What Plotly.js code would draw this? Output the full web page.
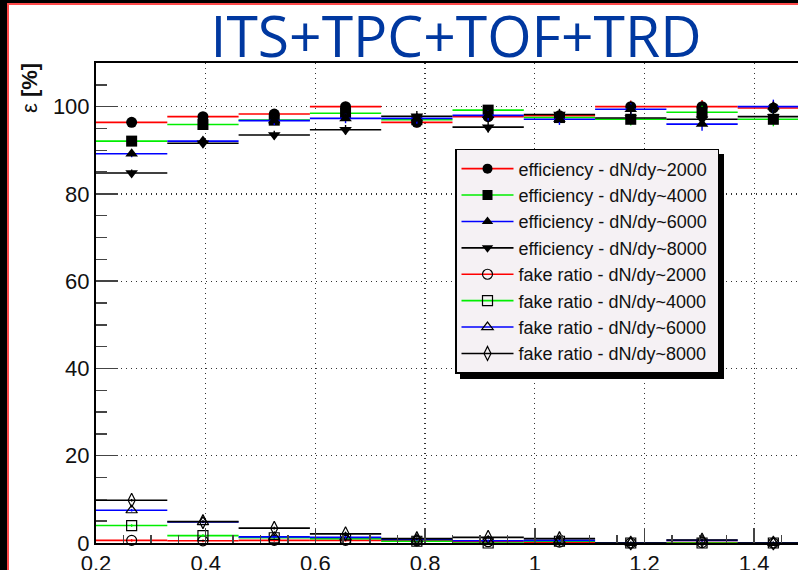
<!DOCTYPE html>
<html>
<head>
<meta charset="utf-8">
<script src="https://cdn.plot.ly/plotly-3.0.1.min.js"></script>
<style>
  html, body { margin: 0; padding: 0; background: #fff; }
  #wrap { position: relative; width: 798px; height: 570px; overflow: hidden; }
  #chart { width: 812px; height: 570px; }
  .legend .bg { filter: drop-shadow(5px 5px 0 #000); }
  .frm { position: absolute; }
</style>
</head>
<body>
<div id="wrap">
  <div id="chart"></div>
  <div class="frm" style="left:0;top:0;width:798px;height:3px;background:#000"></div>
  <div class="frm" style="left:7px;top:3px;width:791px;height:1.5px;background:#ff4a4a"></div>
  <div class="frm" style="left:0;top:0;width:7px;height:570px;background:#000"></div>
  <div class="frm" style="left:7px;top:3px;width:1.5px;height:567px;background:#ff4a4a"></div>
</div>
<script>
// ---- data ----
const binCenters = [0.265, 0.395, 0.525, 0.655, 0.785, 0.915, 1.045, 1.175, 1.305, 1.435];
const binHalfWidth = [0.065, 0.065, 0.065, 0.065, 0.065, 0.065, 0.065, 0.065, 0.065, 0.065];

const eff2000 = [96.4, 97.7, 98.3, 100.0, 96.4, 97.7, 97.9, 100.0, 100.0, 99.7];
const eff4000 = [92.1, 95.9, 96.9, 98.5, 97.0, 99.2, 97.5, 97.1, 98.7, 97.1];
const eff6000 = [89.2, 92.1, 96.8, 97.3, 97.3, 98.0, 97.1, 99.4, 96.0, 100.0];
const eff8000 = [84.8, 91.6, 93.5, 94.7, 97.8, 95.3, 98.2, 97.4, 97.1, 97.7];
const effErr  = [0.8, 0.9, 1.0, 1.1, 1.2, 1.2, 1.3, 1.4, 1.5, 1.6];

const fake2000 = [0.6, 0.5, 0.6, 0.6, 0.5, 0.3, 0.2, 0.0, 0.1, 0.0];
const fake4000 = [4.0, 1.7, 1.2, 1.0, 0.4, 0.0, 0.4, 0.0, 0.0, 0.0];
const fake6000 = [7.5, 4.8, 1.4, 1.3, 0.8, 0.5, 0.6, 0.0, 0.6, 0.0];
const fake8000 = [9.8, 4.9, 3.4, 2.1, 1.0, 1.3, 1.0, 0.0, 0.7, 0.0];
const fakeErr  = [0.3, 0.3, 0.3, 0.3, 0.3, 0.3, 0.3, 0.3, 0.3, 0.3];

const seriesNames = [
  'efficiency - dN/dy~2000', 'efficiency - dN/dy~4000',
  'efficiency - dN/dy~6000', 'efficiency - dN/dy~8000',
  'fake ratio - dN/dy~2000', 'fake ratio - dN/dy~4000',
  'fake ratio - dN/dy~6000', 'fake ratio - dN/dy~8000'
];
const titleText = 'ITS+TPC+TOF+TRD';
const yTitle = 'ε [%]';

// ---- styles ----
const colors = ['#ff0000', '#00ee00', '#0000ff', '#000000'];
const effSymbols = ['circle', 'square', 'triangle-up', 'triangle-down'];
const fakeSymbols = ['circle-open', 'square-open', 'triangle-up-open', 'diamond-tall-open'];
const FONT = 'Liberation Sans, Arial, sans-serif';

const effSeries = [eff2000, eff4000, eff6000, eff8000];
const fakeSeries = [fake2000, fake4000, fake6000, fake8000];

const traces = [];
function addSeries(yv, err, color, symbol, filled) {
  traces.push({
    type: 'scatter', mode: 'markers', x: binCenters, y: yv, showlegend: false,
    cliponaxis: false,
    marker: { color: '#000', symbol: symbol, size: filled ? 11 : 10,
              line: { color: '#000', width: filled ? 0 : 1.2 } },
    error_x: { type: 'data', array: binHalfWidth, color: color, thickness: 1.6, width: 0 },
    error_y: { type: 'data', array: err, color: color, thickness: 1.4, width: 0 }
  });
}
effSeries.forEach((s, i) => addSeries(s, effErr, colors[i], effSymbols[i], true));
fakeSeries.forEach((s, i) => addSeries(s, fakeErr, colors[i], fakeSymbols[i], false));

// legend entries
const allSymbols = effSymbols.concat(fakeSymbols);
seriesNames.forEach((name, i) => {
  const c = colors[i % 4];
  const filled = i < 4;
  traces.push({
    type: 'scatter', mode: 'lines+markers', x: [null], y: [null],
    name: name + '\u00a0',
    line: { color: c, width: 1.6 },
    marker: { color: '#000', symbol: allSymbols[i], size: 10,
              line: { color: '#000', width: filled ? 0 : 1.2 } }
  });
});

const axisCommon = {
  showline: true, linecolor: '#000', linewidth: 2, mirror: true,
  ticks: 'inside', tickcolor: '#444', tickwidth: 1.5,
  showgrid: true, gridcolor: '#333', griddash: '1px,4px', gridwidth: 1.2,
  zeroline: false,
  tickfont: { family: FONT, size: 22, color: '#111' }
};

const layout = {
  width: 812, height: 570,
  margin: { l: 96, r: 3, t: 63, b: 27 },
  paper_bgcolor: '#fff', plot_bgcolor: '#fff',
  title: {
    text: titleText, x: 456 / 812, xanchor: 'center', xref: 'container',
    y: 1 - 37 / 570, yanchor: 'middle', yref: 'container',
    font: { family: 'Open Sans, Noto Sans, sans-serif', size: 57, color: '#0038a0' }
  },
  xaxis: Object.assign({}, axisCommon, {
    range: [0.2, 1.5], tickmode: 'array', tickvals: [0.2, 0.4, 0.6, 0.8, 1, 1.2, 1.4],
    ticktext: ['0.2', '0.4', '0.6', '0.8', '1', '1.2', '1.4'], ticklen: 15,
    minor: { dtick: 0.05, tick0: 0.2, ticks: 'inside', ticklen: 8, tickcolor: '#444', tickwidth: 1.5, showgrid: false }
  }),
  yaxis: Object.assign({}, axisCommon, {
    range: [0, 110], tickmode: 'array', tickvals: [0, 20, 40, 60, 80, 100], ticklen: 22,
    minor: { dtick: 5, tick0: 0, ticks: 'inside', ticklen: 11, tickcolor: '#444', tickwidth: 1.5, showgrid: false }
  }),
  showlegend: true,
  legend: {
    x: (455 - 96) / 713, y: (543.3 - 149) / 480.3, xanchor: 'left', yanchor: 'top',
    bgcolor: '#f5f1f4', bordercolor: '#000', borderwidth: 1.5,
    font: { family: FONT, size: 18, color: '#111' }, tracegroupgap: 0, itemwidth: 52
  },
  annotations: [{
    text: yTitle.replace('[%]', '<b>[%]</b>'), xref: 'paper', yref: 'paper',
    x: (30 - 96) / 713, y: (543.3 - 88) / 480.3, xanchor: 'center', yanchor: 'middle',
    textangle: -90, showarrow: false,
    font: { family: FONT, size: 22, color: '#111' }
  }]
};

Plotly.newPlot('chart', traces, layout, { displayModeBar: false, staticPlot: true });
</script>
</body>
</html>
